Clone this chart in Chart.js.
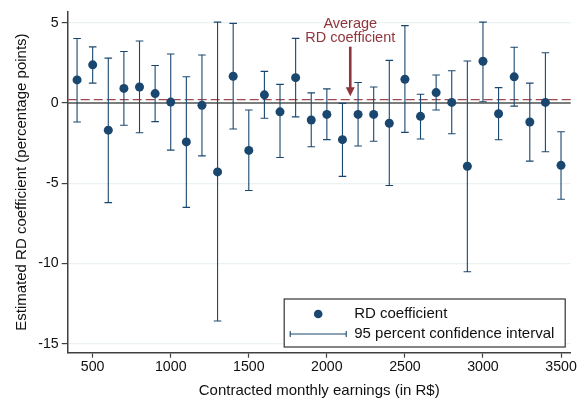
<!DOCTYPE html>
<html>
<head>
<meta charset="utf-8">
<script src="https://cdn.jsdelivr.net/npm/chart.js@4.4.1/dist/chart.umd.min.js"></script>
<style>
  html, body { margin: 0; padding: 0; background: #fff; }
</style>
</head>
<body>
<canvas id="rd-chart" width="587" height="405"></canvas>
<script>
// bins of contracted monthly earnings (R$)
var earnings = [400, 500, 600, 700, 800, 900, 1000, 1100, 1200, 1300, 1400, 1500, 1600, 1700, 1800, 1900,
  2000, 2100, 2200, 2300, 2400, 2500, 2600, 2700, 2800, 2900, 3000, 3100, 3200, 3300, 3400, 3500];
var coef = [1.43, 2.37, -1.70, 0.90, 0.99, 0.58, 0.05, -2.43, -0.15, -4.30, 1.66, -2.96, 0.50, -0.56, 1.57, -1.07,
  -0.72, -2.29, -0.72, -0.72, -1.27, 1.47, -0.84, 0.64, 0.03, -3.95, 2.59, -0.68, 1.62, -1.19, 0.03, -3.89];
var ciLow = [-1.19, 1.23, -6.21, -1.39, -1.86, -1.17, -2.94, -6.51, -3.30, -13.59, -1.63, -5.46, -0.96, -3.40, -0.87, -2.73,
  -2.29, -4.58, -2.69, -2.39, -5.15, -1.84, -2.25, -0.44, -1.92, -10.52, 0.07, -2.30, -0.20, -3.63, -3.04, -6.00];
var ciHigh = [4.01, 3.49, 2.79, 3.20, 3.85, 2.33, 3.04, 1.63, 2.98, 5.03, 4.95, -0.44, 1.96, 1.15, 4.02, 0.62,
  0.87, -0.03, 1.27, 0.99, 2.65, 4.81, 0.54, 1.74, 2.00, 2.61, 5.03, 0.95, 3.46, 1.23, 3.12, -1.80];
var avgCoef = 0.2;
var xTicks = [500, 1000, 1500, 2000, 2500, 3000, 3500];
var yTicks = [-15, -10, -5, 0, 5];
var arrowX = 2150, arrowFrom = 3.5, arrowTo = 0.42;

var navy = '#1a476f';
var cranberry = '#90353b';
var axisColor = '#404040';
var font = "'Liberation Sans', Arial, sans-serif";

// zero line, average line, confidence intervals
var backdropPlugin = {
  id: 'backdrop',
  beforeDatasetsDraw: function(chart) {
    var ctx = chart.ctx, xs = chart.scales.x, ys = chart.scales.y;
    var area = chart.chartArea;
    ctx.save();

    ctx.strokeStyle = '#555555';
    ctx.lineWidth = 1.5;
    ctx.beginPath();
    ctx.moveTo(area.left, ys.getPixelForValue(0));
    ctx.lineTo(area.right, ys.getPixelForValue(0));
    ctx.stroke();

    ctx.strokeStyle = '#a0484e';
    ctx.lineWidth = 1.2;
    ctx.setLineDash([9, 4]);
    ctx.beginPath();
    ctx.moveTo(area.left, ys.getPixelForValue(avgCoef));
    ctx.lineTo(area.right, ys.getPixelForValue(avgCoef));
    ctx.stroke();
    ctx.setLineDash([]);

    ctx.strokeStyle = navy;
    ctx.lineWidth = 1.1;
    for (var i = 0; i < earnings.length; i++) {
      var x = xs.getPixelForValue(earnings[i]);
      var lo = ys.getPixelForValue(ciLow[i]);
      var hi = ys.getPixelForValue(ciHigh[i]);
      ctx.beginPath();
      ctx.moveTo(x, lo); ctx.lineTo(x, hi);
      ctx.moveTo(x - 3.8, lo); ctx.lineTo(x + 3.8, lo);
      ctx.moveTo(x - 3.8, hi); ctx.lineTo(x + 3.8, hi);
      ctx.stroke();
    }
    ctx.restore();
  },
  afterDraw: function(chart) {
    var ctx = chart.ctx, xs = chart.scales.x, ys = chart.scales.y;
    var area = chart.chartArea;
    ctx.save();

    // annotation
    var ax = xs.getPixelForValue(arrowX);
    var a0 = ys.getPixelForValue(arrowFrom);
    var a1 = ys.getPixelForValue(arrowTo);
    ctx.fillStyle = cranberry;
    ctx.strokeStyle = cranberry;
    ctx.font = '14.5px ' + font;
    ctx.textAlign = 'center';
    ctx.textBaseline = 'alphabetic';
    ctx.fillText('Average', ax, a0 - 18.5);
    ctx.fillText('RD coefficient', ax, a0 - 4.5);
    ctx.lineWidth = 2.6;
    ctx.beginPath();
    ctx.moveTo(ax, a0);
    ctx.lineTo(ax, a1 - 8);
    ctx.stroke();
    ctx.beginPath();
    ctx.moveTo(ax, a1);
    ctx.lineTo(ax - 4.5, a1 - 9);
    ctx.lineTo(ax + 4.5, a1 - 9);
    ctx.closePath();
    ctx.fill();

    // legend box
    var bx = area.right - 286.5, by = area.bottom - 53.7, bw = 281, bh = 48;
    ctx.fillStyle = '#ffffff';
    ctx.fillRect(bx, by, bw, bh);
    ctx.strokeStyle = '#333333';
    ctx.lineWidth = 1.2;
    ctx.strokeRect(bx, by, bw, bh);

    ctx.fillStyle = navy;
    ctx.beginPath();
    ctx.arc(bx + 34, by + 15, 4.3, 0, Math.PI * 2);
    ctx.fill();

    ctx.strokeStyle = navy;
    ctx.lineWidth = 1.1;
    ctx.beginPath();
    ctx.moveTo(bx + 6, by + 35); ctx.lineTo(bx + 62, by + 35);
    ctx.moveTo(bx + 6, by + 32); ctx.lineTo(bx + 6, by + 38);
    ctx.moveTo(bx + 62, by + 32); ctx.lineTo(bx + 62, by + 38);
    ctx.stroke();

    ctx.fillStyle = '#111111';
    ctx.font = '15px ' + font;
    ctx.textAlign = 'left';
    ctx.textBaseline = 'middle';
    ctx.fillText('RD coefficient', bx + 70, by + 15);
    ctx.fillText('95 percent confidence interval', bx + 70, by + 35);
    ctx.restore();
  }
};

var plainNumber = function(v) { return String(v); };

var chart = new Chart(document.getElementById('rd-chart'), {
  type: 'scatter',
  data: {
    datasets: [{
      label: 'RD coefficient',
      data: earnings.map(function(e, i) { return { x: e, y: coef[i] }; }),
      backgroundColor: navy,
      borderWidth: 0,
      pointRadius: 4.5,
      pointHoverRadius: 4.5
    }]
  },
  options: {
    responsive: false,
    animation: false,
    events: [],
    layout: { padding: { left: 0, right: 16.3, top: 5, bottom: 0 } },
    plugins: {
      legend: { display: false },
      tooltip: { enabled: false }
    },
    scales: {
      x: {
        type: 'linear',
        min: 340,
        max: 3562,
        afterBuildTicks: function(scale) {
          scale.ticks = xTicks.map(function(v) { return { value: v }; });
        },
        afterFit: function(scale) { scale.height = 52.3; },
        border: { color: axisColor, width: 1.5 },
        grid: { drawOnChartArea: false, drawTicks: true, tickLength: 5, tickColor: axisColor, tickWidth: 1.2 },
        ticks: { color: '#111111', font: { family: font, size: 14.2 }, padding: 1, maxRotation: 0, callback: plainNumber },
        title: {
          display: true,
          text: 'Contracted monthly earnings (in R$)',
          color: '#111111',
          font: { family: font, size: 15 },
          padding: { top: 0, bottom: 5.5 }
        }
      },
      y: {
        type: 'linear',
        min: -15.56,
        max: 5.69,
        afterBuildTicks: function(scale) {
          scale.ticks = yTicks.map(function(v) { return { value: v }; });
        },
        afterFit: function(scale) { scale.width = 67.7; },
        border: { color: axisColor, width: 1.5 },
        grid: { color: '#eaf2f3', lineWidth: 1.2, drawTicks: true, tickLength: 6, tickColor: axisColor, tickWidth: 1.2 },
        ticks: { color: '#111111', font: { family: font, size: 14.2 }, padding: 3, callback: plainNumber },
        title: {
          display: true,
          text: 'Estimated RD coefficient (percentage points)',
          color: '#111111',
          font: { family: font, size: 15 },
          padding: { top: 13, bottom: 0 }
        }
      }
    }
  },
  plugins: [backdropPlugin]
});
</script>
</body>
</html>
